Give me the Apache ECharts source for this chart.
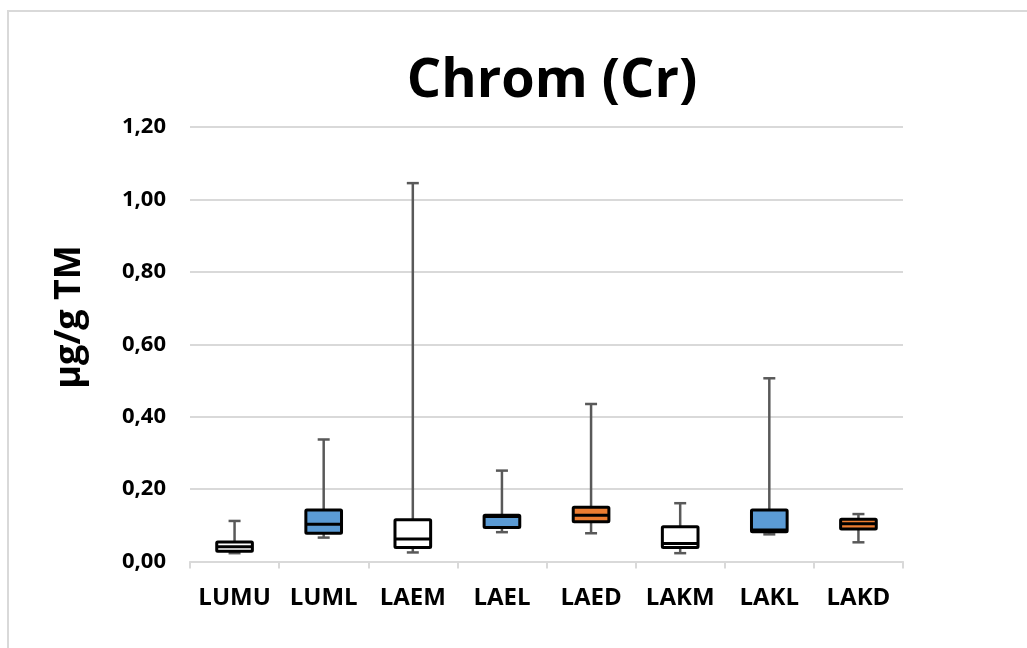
<!DOCTYPE html>
<html>
<head>
<meta charset="utf-8">
<script src="https://cdn.jsdelivr.net/npm/echarts@6/dist/echarts.min.js"></script>
<style>
  html, body { margin: 0; padding: 0; background: #ffffff; }
  #chart { width: 1027px; height: 648px; }
</style>
</head>
<body>
<div id="chart"></div>
<script>
// Chromium content per sampling site (µg/g dry matter)
const categories = ['LUMU', 'LUML', 'LAEM', 'LAEL', 'LAED', 'LAKM', 'LAKL', 'LAKD'];
const minValues    = [0.023, 0.066, 0.025, 0.081, 0.078, 0.023, 0.075, 0.053];
const q1Values     = [0.028, 0.078, 0.039, 0.094, 0.110, 0.039, 0.082, 0.090];
const medianValues = [0.041, 0.103, 0.062, 0.124, 0.128, 0.050, 0.087, 0.104];
const q3Values     = [0.054, 0.142, 0.115, 0.128, 0.150, 0.096, 0.142, 0.117];
const maxValues    = [0.112, 0.337, 1.045, 0.251, 0.435, 0.161, 0.506, 0.131];
const boxFills     = ['#ffffff', '#5B9BD5', '#ffffff', '#5B9BD5', '#ED7D31', '#ffffff', '#5B9BD5', '#ED7D31'];
const yTicks = { min: 0, max: 1.2, step: 0.2 };

const FONT = '"Open Sans", "Noto Sans", sans-serif';

const boxData = categories.map((c, i) =>
  [i, minValues[i], q1Values[i], medianValues[i], q3Values[i], maxValues[i]]);

function renderBox(params, api) {
  const idx = api.value(0);
  const pMin = api.coord([idx, api.value(1)]);
  const pQ1 = api.coord([idx, api.value(2)]);
  const pMed = api.coord([idx, api.value(3)]);
  const pQ3 = api.coord([idx, api.value(4)]);
  const pMax = api.coord([idx, api.value(5)]);
  const band = api.size([1, 0])[0];
  const bw = band * 0.4;
  const cap = 12;
  const x = pQ1[0];
  const whisker = { stroke: '#595959', lineWidth: 2.5 };
  const edge = { stroke: '#000000', lineWidth: 3 };
  return {
    type: 'group',
    children: [
      { type: 'line', shape: { x1: x, y1: pMin[1], x2: x, y2: pQ1[1] }, style: whisker },
      { type: 'line', shape: { x1: x, y1: pQ3[1], x2: x, y2: pMax[1] }, style: whisker },
      { type: 'line', shape: { x1: x - cap / 2, y1: pMin[1], x2: x + cap / 2, y2: pMin[1] }, style: whisker },
      { type: 'line', shape: { x1: x - cap / 2, y1: pMax[1], x2: x + cap / 2, y2: pMax[1] }, style: whisker },
      {
        type: 'rect',
        shape: { x: x - bw / 2, y: pQ3[1], width: bw, height: pQ1[1] - pQ3[1], r: 1 },
        style: Object.assign({ fill: boxFills[params.dataIndex] }, edge)
      },
      { type: 'line', shape: { x1: x - bw / 2, y1: pMed[1], x2: x + bw / 2, y2: pMed[1] }, style: edge }
    ]
  };
}

const chart = echarts.init(document.getElementById('chart'), null, { renderer: 'canvas' });

chart.setOption({
  backgroundColor: '#ffffff',
  animation: false,
  textStyle: { fontFamily: FONT },
  grid: { left: 190, right: 124, top: 127, bottom: 86.5, containLabel: false },
  graphic: [
    {
      type: 'rect', silent: true, z: -10,
      shape: { x: 8, y: 11, width: 1200, height: 800 },
      style: { fill: 'none', stroke: '#d9d9d9', lineWidth: 2 }
    },
    {
      type: 'text', x: 552, y: 82,
      style: { text: 'Chrom (Cr)', font: 'bold 54px ' + FONT, fill: '#000000', align: 'center', verticalAlign: 'middle' }
    },
    {
      type: 'text', x: 70, y: 317, rotation: Math.PI / 2,
      style: { text: 'µg/g TM', font: 'bold 36px ' + FONT, fill: '#000000', align: 'center', verticalAlign: 'middle' }
    }
  ],
  xAxis: {
    type: 'category',
    data: categories,
    boundaryGap: true,
    axisLine: { lineStyle: { color: '#d9d9d9', width: 2 } },
    axisTick: { show: true, interval: 0, length: 7, lineStyle: { color: '#d9d9d9', width: 2 } },
    axisLabel: { interval: 0, hideOverlap: false, color: '#000000', fontWeight: 'bold', fontSize: 24, margin: 25, fontFamily: FONT },
    splitLine: { show: false }
  },
  yAxis: {
    type: 'value',
    min: yTicks.min,
    max: yTicks.max,
    interval: yTicks.step,
    axisLine: { show: false },
    axisTick: { show: false },
    axisLabel: {
      color: '#000000', fontWeight: 'bold', fontSize: 22, margin: 24, fontFamily: FONT,
      formatter: v => v.toFixed(2).replace('.', ',')
    },
    splitLine: { lineStyle: { color: '#d9d9d9', width: 2 } }
  },
  series: [{
    type: 'custom',
    renderItem: renderBox,
    encode: { x: 0, y: [1, 2, 3, 4, 5] },
    data: boxData,
    z: 5
  }]
});
</script>
</body>
</html>
